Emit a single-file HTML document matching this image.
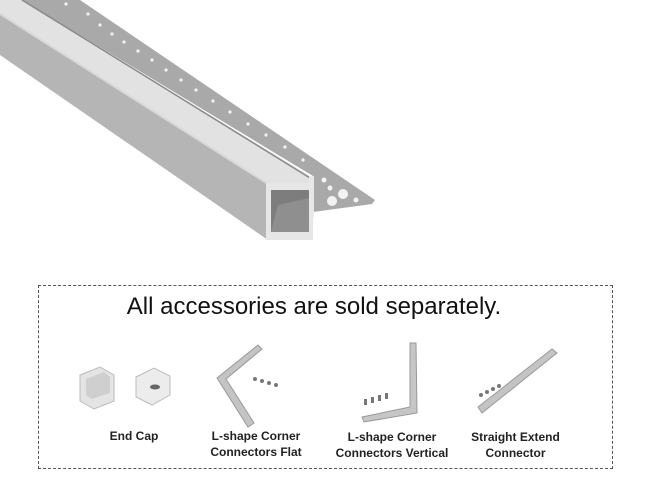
<!DOCTYPE html>
<html><head><style>
html,body{margin:0;padding:0;background:#fff;width:650px;height:502px;overflow:hidden;font-family:"Liberation Sans",Arial,sans-serif}
.box{position:absolute;left:38px;top:285px;width:573px;height:182px;border:1px dashed #555}
.t{position:absolute;font-weight:bold;font-size:12px;color:#222;text-align:center;line-height:16px}
</style></head><body>
<svg width="650" height="280" style="position:absolute;left:0;top:0">
 <polygon points="45,0 80,0 375,200 372,204 313,212 313,176 22,0" fill="#a9a9a9"/>
 <polygon points="0,0 22,0 310,176 310,184 268,184 0,14" fill="#e2e2e2"/>
 <line x1="22" y1="0" x2="310" y2="178" stroke="#8a8a8a" stroke-width="1.5"/>
 <polygon points="0,14 268,184 268,240 0,55" fill="#b5b5b5"/>
 <line x1="0" y1="14" x2="268" y2="184" stroke="#d8d8d8" stroke-width="2"/>
 <rect x="266" y="183" width="47" height="57" fill="#e6e6e6"/>
 <rect x="271" y="190" width="38" height="42" fill="#8f8f8f"/>
 <polygon points="271,190 309,190 309,198 278,205 271,232" fill="#7d7d7d"/>
 <rect x="309" y="176" width="5" height="42" fill="#e8e8e8"/>
 <g fill="#f2f2f2">
  <circle cx="66" cy="4" r="1.6"/><circle cx="88" cy="14" r="1.6"/><circle cx="100" cy="25" r="1.6"/><circle cx="112" cy="34" r="1.6"/><circle cx="124" cy="42" r="1.6"/><circle cx="138" cy="51" r="1.6"/><circle cx="152" cy="60" r="1.6"/><circle cx="166" cy="70" r="1.6"/><circle cx="181" cy="80" r="1.6"/><circle cx="196" cy="90" r="1.6"/><circle cx="213" cy="101" r="1.6"/><circle cx="230" cy="112" r="1.6"/><circle cx="248" cy="124" r="1.6"/><circle cx="266" cy="135" r="1.6"/><circle cx="285" cy="147" r="1.6"/><circle cx="303" cy="160" r="1.6"/>
  <circle cx="332" cy="201" r="5"/><circle cx="343" cy="194" r="5"/><circle cx="330" cy="188" r="2.5"/><circle cx="356" cy="200" r="2.5"/><circle cx="324" cy="180" r="2.5"/>
 </g>
</svg>
<div class="box"></div>
<div style="position:absolute;left:38px;top:293px;width:552px;text-align:center;font-size:24px;color:#111">All accessories are sold separately.</div>
<svg width="650" height="120" style="position:absolute;left:0;top:335px">
 <polygon points="80,40 100,32 114,40 114,66 94,74 80,66" fill="#e4e4e4" stroke="#bbb"/>
 <polygon points="86,44 104,37 110,42 110,58 92,64 86,60" fill="#cfcfcf"/>
 <polygon points="136,42 154,33 170,41 170,60 152,70 136,62" fill="#ececec" stroke="#bbb"/>
 <ellipse cx="155" cy="52" rx="5" ry="2.5" fill="#666"/>
 <polygon points="217,43 258,10 262,14 226,44 254,88 248,92" fill="#c4c4c4" stroke="#999"/>
 <g fill="#777"><circle cx="255" cy="44" r="2"/><circle cx="262" cy="46" r="2"/><circle cx="269" cy="48" r="2"/><circle cx="276" cy="50" r="2"/></g>
 <polygon points="410,8 416,8 417,78 364,87 362,82 410,72" fill="#c6c6c6" stroke="#999"/>
 <g fill="#777"><rect x="364" y="64" width="3" height="6"/><rect x="371" y="62" width="3" height="6"/><rect x="378" y="60" width="3" height="6"/><rect x="385" y="58" width="3" height="6"/></g>
 <polygon points="478,72 552,14 557,18 482,78" fill="#c4c4c4" stroke="#999"/>
 <g fill="#777"><circle cx="481" cy="60" r="2"/><circle cx="487" cy="57" r="2"/><circle cx="493" cy="54" r="2"/><circle cx="499" cy="51" r="2"/></g>
</svg>
<div class="t" style="left:90px;top:428px;width:88px">End Cap</div>
<div class="t" style="left:195px;top:428px;width:122px">L-shape Corner<br>Connectors Flat</div>
<div class="t" style="left:322px;top:429px;width:140px">L-shape Corner<br>Connectors Vertical</div>
<div class="t" style="left:458px;top:429px;width:115px">Straight Extend<br>Connector</div>
</body></html>
